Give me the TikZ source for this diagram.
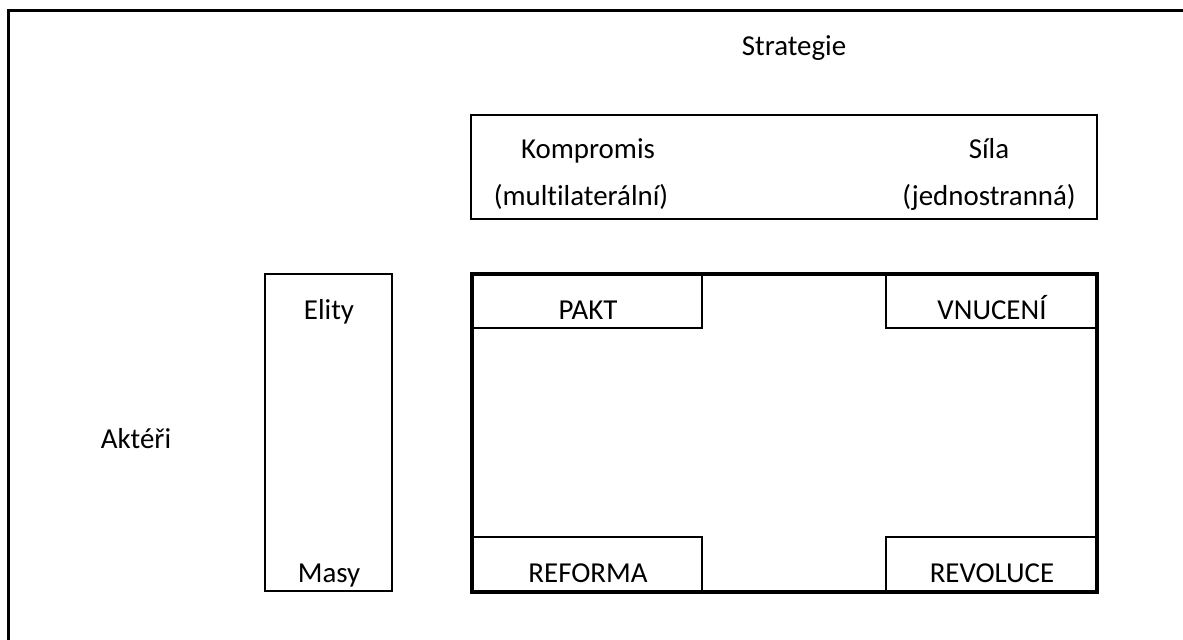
\documentclass[tikz,border=0pt]{standalone}
\usepackage{fontspec}
\setmainfont[Ligatures={NoCommon}]{Carlito}
\begin{document}
\begin{tikzpicture}[x=1bp,y=-1bp,
  lbl/.style={anchor=base,inner sep=0pt,font=\fontsize{29}{35}\selectfont},
  thinbox/.style={draw=black,line width=2.2bp},
  thickbox/.style={draw=black,line width=3.2bp},
  frameline/.style={draw=black,line width=3.2bp}]
\useasboundingbox (0,0) rectangle (1183,640);
% outer frame (open on right and bottom)
\draw[frameline] (8.5,640) -- (8.5,10.5) -- (1183,10.5);
% Strategie
\node[lbl] (strategie) at (794,56) {Strategie};
% top box
\draw[thinbox] (471,115) rectangle (1097,219);
\node[lbl] (kompromis) at (588,159) {Kompromis};
\node[lbl] (multi) at (581,206) {(mult\kern0pt ilaterální)};
\node[lbl] (sila) at (989,159) {Síla};
\node[lbl] (jedno) at (989,206) {(jednostranná)};
% actors
\node[lbl] (akteri) at (136,448) {Aktéři};
\draw[thinbox] (265,274) rectangle (392,591);
\node[lbl] (elity) at (329,320) {Elity};
\node[lbl] (masy) at (329,582) {Masy};
% big box
\draw[thinbox] (472,274) rectangle (702,328);
\draw[thinbox] (886,274) rectangle (1097,328);
\draw[thinbox] (472,537) rectangle (702,592);
\draw[thinbox] (886,537) rectangle (1097,592);
\draw[thickbox] (472,274) rectangle (1097,592);
\node[lbl] (pakt) at (588,320) {PAKT};
\node[lbl] (vnuceni) at (992,320) {VNUCENÍ};
\node[lbl] (reforma) at (588,582) {REFORMA};
\node[lbl] (revoluce) at (992,582) {REVOLUCE};
\end{tikzpicture}
\end{document}
